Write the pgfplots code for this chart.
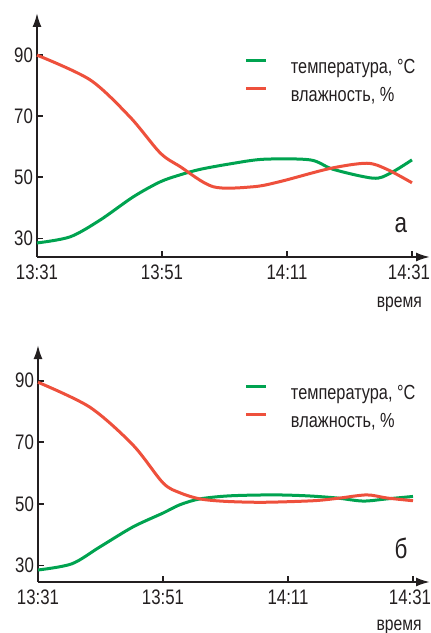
\documentclass[border=0pt]{standalone}
\usepackage{fontspec}
\setmainfont{Liberation Sans}[FakeStretch=0.8]
\usepackage{pgfplots}
\usepackage{pgfplotstable}
\pgfplotsset{compat=1.18}
\usetikzlibrary{arrows.meta}
\definecolor{tgreen}{RGB}{0,163,80}
\definecolor{hred}{RGB}{238,80,60}
\definecolor{txt}{RGB}{35,31,32}

\pgfplotstableread{
t v
0 90
8.5 81.9
14.9 69.7
19.7 58.0
22.9 53.5
28.2 46.9
34.6 46.9
38.9 48.6
46.9 52.9
52.8 54.6
56 52.6
60 48.2
}\topRed
\pgfplotstableread{
t v
0 28.5
5.3 30.5
10.1 36.0
15.4 43.6
19.7 48.5
22.9 50.8
26.1 52.6
30.9 54.4
36.2 55.9
43.7 55.7
47.4 52.6
53.8 49.7
56.5 51.3
60 55.7
}\topGreen
\pgfplotstableread{
t v
0 89.5
8.3 81.4
15.2 69.1
20 56.8
22.7 53.6
25.9 51.6
30 50.8
36 50.5
44 51.0
48 51.8
52.6 52.9
55.8 51.9
60 51.0
}\botRed
\pgfplotstableread{
t v
0 28.5
5.4 30.5
9.9 36.0
15.2 42.5
20 47.0
22.7 49.7
25.9 51.6
30.7 52.6
37.6 52.9
43 52.6
47.8 51.9
52 50.9
55.8 51.6
60 52.4
}\botGreen

\pgfplotsset{
  mystyle/.style={
    scale only axis,
    axis lines=left,
    axis line style={line width=1pt, draw=txt, -{Latex[length=7pt,width=4.5pt]}},
    xmin=0,
    xtick={0,20,40,60},
    xticklabels={13:31,13:51,14:11,14:31\hspace*{3pt}},
    ytick={30,50,70,90},
    tick align=inside,
    major tick length=3pt,
    tick style={line width=0.8pt, draw=txt},
    ticklabel style={font=\fontsize{10.5}{12}\selectfont, text=txt},
    xticklabel style={yshift=-0.5pt},
    yticklabel style={xshift=1.5pt},
    /pgf/number format/assume math mode=true,
    clip=false,
    legend cell align=left,
    legend image code/.code={\draw[##1, line width=1.5pt] (0pt,4pt) -- (10pt,4pt);},
    legend style={draw=none, fill=none, inner sep=0pt, outer sep=0pt,
      font=\fontsize{10.2}{12}\selectfont, text=txt, row sep=4.5pt,
      nodes={inner sep=0pt, text height=7pt, text depth=2pt},
      /tikz/every odd column/.append style={column sep=11.5pt}},
  }
}

\begin{document}
\begin{tikzpicture}
\path[use as bounding box] (0pt,0pt) rectangle (215pt,316.5pt);
\begin{axis}[mystyle,
  at={(18.5pt,188pt)}, anchor=south west,
  width=196.5pt, height=122pt,
  xmax=62.88, ymin=23.9, ymax=103.8,
  legend style={at={(rel axis cs:0.529,0.811)}, anchor=north west}]
\addplot[tgreen, line width=1.5pt, smooth, tension=0.5] table[x=t,y=v] {\topGreen};
\addlegendentry{температура, °C}
\addplot[hred, line width=1.5pt, smooth, tension=0.5] table[x=t,y=v] {\topRed};
\addlegendentry{влажность, \%}
\node[anchor=base, font=\fontsize{14}{16}\selectfont, text=txt] at (rel axis cs:0.926,0.102) {а};
\node[anchor=base, font=\fontsize{9.8}{11}\selectfont, text=txt] at (rel axis cs:0.922,0) [yshift=-25.5pt] {время};
\end{axis}
\begin{axis}[mystyle,
  at={(19pt,25.5pt)}, anchor=south west,
  width=196pt, height=118.5pt,
  xmax=62.72, ymin=24.6, ymax=101.6,
  legend style={at={(rel axis cs:0.528,0.831)}, anchor=north west}]
\addplot[tgreen, line width=1.5pt, smooth, tension=0.5] table[x=t,y=v] {\botGreen};
\addlegendentry{температура, °C}
\addplot[hred, line width=1.5pt, smooth, tension=0.5] table[x=t,y=v] {\botRed};
\addlegendentry{влажность, \%}
\node[anchor=base, font=\fontsize{14}{16}\selectfont, text=txt] at (rel axis cs:0.926,0.101) {б};
\node[anchor=base, font=\fontsize{9.8}{11}\selectfont, text=txt] at (rel axis cs:0.921,0) [yshift=-24pt] {время};
\end{axis}
\end{tikzpicture}
\end{document}
